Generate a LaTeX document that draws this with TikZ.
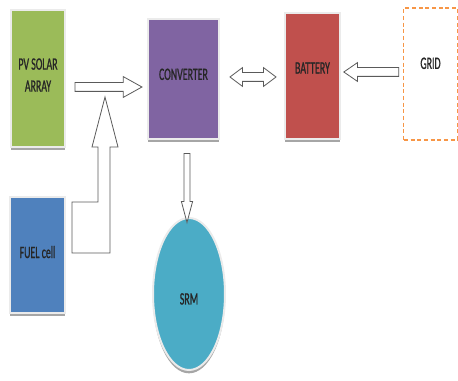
\documentclass[tikz,border=0pt]{standalone}
\usepackage{fontspec}
\setmainfont{Carlito}[FakeStretch=0.57,FakeBold=0.9]
\usetikzlibrary{shapes.geometric,shapes.arrows,shadows}
\definecolor{pvgreen}{HTML}{9BBB59}
\definecolor{convpurple}{HTML}{8064A2}
\definecolor{battred}{HTML}{C0504D}
\definecolor{fuelblue}{HTML}{4F81BD}
\definecolor{srmteal}{HTML}{4BACC6}
\definecolor{gridorange}{HTML}{F79646}
\definecolor{arrowgray}{HTML}{5A5A5A}
\begin{document}
\begin{tikzpicture}
[x=0.75pt,y=-0.75pt,
every node/.style={font=\fontsize{13}{16.5}\selectfont,text=black!85},
block/.style={draw=black!8,line width=1.5pt,
  drop shadow={shadow xshift=0pt,shadow yshift=-2.5pt,fill=black!35,opacity=1}},
fatarrow/.style={draw=arrowgray,fill=white,line width=0.6pt,inner sep=3pt,
  shape border uses incircle=false}]
\useasboundingbox (0,0) rectangle (458,381);
% blocks
\node[block,fill=pvgreen,minimum width=40.5pt,minimum height=102.75pt,
  label={[yshift=2.6pt,align=center]center:PV SOLAR\\ARRAY}] (pv) at (38,78.5) {};
\node[block,fill=convpurple,minimum width=53.25pt,minimum height=90pt,
  label={[yshift=3.5pt]center:CONVERTER}] (conv) at (183.5,79) {};
\node[block,fill=battred,minimum width=41.25pt,minimum height=94.5pt,
  label={[yshift=6pt]center:BATTERY}] (batt) at (312.5,76) {};
\node[draw=gridorange,dashed,dash pattern=on 3pt off 2pt,line width=0.8pt,
  minimum width=40pt,minimum height=99pt,
  label={[yshift=8pt]center:GRID}] (grid) at (430.5,74) {};
\node[block,fill=fuelblue,minimum width=41.25pt,minimum height=87pt,
  label={[yshift=2.2pt]center:FUEL cell}] (fuel) at (37.5,255) {};
\node[ellipse,block,fill=srmteal,minimum width=54pt,minimum height=114pt,inner sep=0pt,
  label={[yshift=-3.7pt]center:SRM}] (srm) at (189,294) {};
% block arrows
\node[single arrow,fatarrow,minimum height=50.25pt,single arrow head extend=4.5pt,
  single arrow tip angle=58] (pvarrow) at (104.5,87) {};
\node[double arrow,fatarrow,minimum height=34.5pt,double arrow head extend=3.75pt,
  double arrow tip angle=74] (battarrow) at (253,77) {};
\node[single arrow,fatarrow,rotate=180,minimum height=41.25pt,single arrow head extend=3.75pt,
  single arrow tip angle=69] (gridarrow) at (374.5,72) {};
\node[single arrow,fatarrow,rotate=-90,inner sep=1.9pt,minimum height=51.75pt,
  single arrow head extend=2pt,single arrow tip angle=30] (srmarrow) at (187,182.5) {};
\draw[draw=arrowgray,fill=white,line width=0.6pt]
  (72,202) -- (98,202) -- (98,147) -- (92,147) -- (105,97) -- (118,147)
  -- (110,147) -- (110,253) -- (72,253) -- cycle;
\end{tikzpicture}
\end{document}
